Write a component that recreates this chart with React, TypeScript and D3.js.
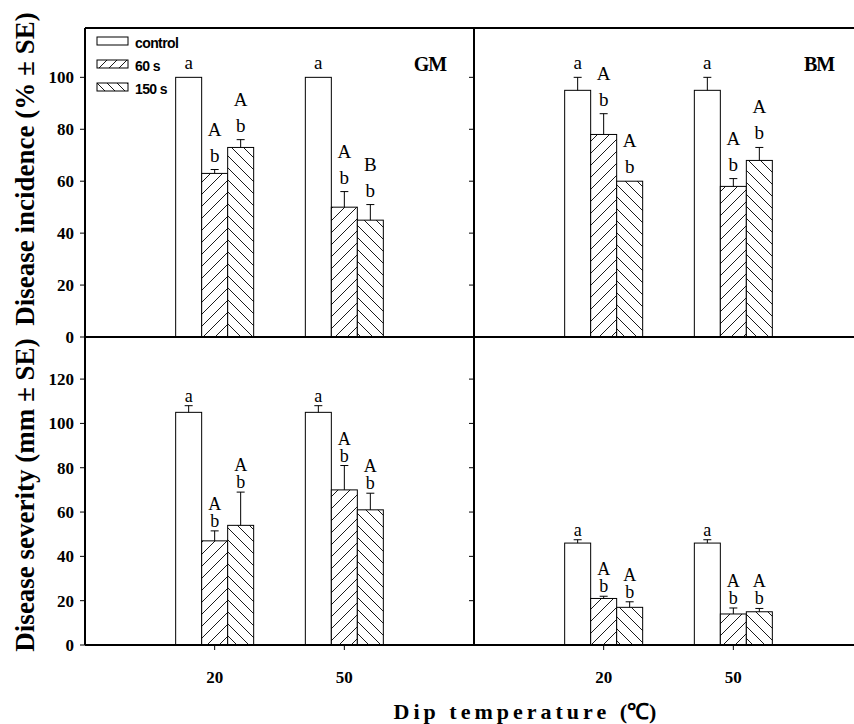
import React from "react";
import * as d3 from "d3";

// Dip temperatures (°C) and treatments
const temperatures = ["20", "50"];
const treatments = ["control", "60 s", "150 s"];

// Means and standard errors, indexed [treatment][temperature]
const gmIncidence = [[100, 100], [63, 50], [73, 45]];
const gmIncidenceSE = [[0, 0], [1.5, 6], [3, 6]];
const bmIncidence = [[95, 95], [78, 58], [60, 68]];
const bmIncidenceSE = [[5, 5], [8, 3], [0, 5]];
const gmSeverity = [[105, 105], [47, 70], [54, 61]];
const gmSeveritySE = [[3, 3], [4.5, 11], [15, 7.5]];
const bmSeverity = [[46, 46], [21, 14], [17, 15]];
const bmSeveritySE = [[1.5, 1.5], [1, 2.7], [2.5, 1.5]];

// Significance letters
const lowerLetters = [["a", "a"], ["b", "b"], ["b", "b"]];
const gmIncidenceUpper = [["", ""], ["A", "A"], ["A", "B"]];
const commonUpper = [["", ""], ["A", "A"], ["A", "A"]];

const incidenceTicks = [0, 20, 40, 60, 80, 100];
const severityTicks = [0, 20, 40, 60, 80, 100, 120];
const cultivars = ["GM", "BM"];

const W = 854;
const H = 724;
const LEFT = 85;
const PANEL_W = 389;
const TOP = 28;
const MID = 337;
const BOTTOM = 645;
const SERIF = "'Liberation Serif', 'Times New Roman', serif";
const SANS = "'Liberation Sans', Arial, sans-serif";

type Panel = {
  values: number[][];
  se: number[][];
  upper: string[][];
};

const rows = [
  {
    title: "Disease incidence (% \u00b1 SE)",
    ticks: incidenceTicks,
    y: d3.scaleLinear().domain([0, 119]).range([MID, TOP]),
    titleCenter: 169,
    letterSize: 19,
    gapLower: 8,
    spacing: 26,
    panels: [
      { values: gmIncidence, se: gmIncidenceSE, upper: gmIncidenceUpper },
      { values: bmIncidence, se: bmIncidenceSE, upper: commonUpper },
    ] as Panel[],
  },
  {
    title: "Disease severity (mm \u00b1 SE)",
    ticks: severityTicks,
    y: d3.scaleLinear().domain([0, 139]).range([BOTTOM, MID]),
    titleCenter: 495,
    letterSize: 18,
    gapLower: 4,
    spacing: 17,
    panels: [
      { values: gmSeverity, se: gmSeveritySE, upper: commonUpper },
      { values: bmSeverity, se: bmSeveritySE, upper: commonUpper },
    ] as Panel[],
  },
];

const fills = ["#ffffff", "url(#hatchFwd)", "url(#hatchBack)"];

export default function App() {
  const inner = d3.scaleBand<string>().domain(treatments).range([-39, 39]);
  const bw = inner.bandwidth();
  const xFor = (col: number) =>
    d3
      .scalePoint<string>()
      .domain(["", ...temperatures, " "])
      .range([LEFT + col * PANEL_W, LEFT + (col + 1) * PANEL_W]);

  return (
    <svg
      width={W}
      height={H}
      style={{ position: "absolute", left: 0, top: 0, background: "#fff" }}
    >
      <defs>
        <pattern id="hatchFwd" patternUnits="userSpaceOnUse" width={12} height={12}>
          <rect width={12} height={12} fill="#fff" />
          <path d="M0,12 L12,0 M-3,3 L3,-3 M9,15 L15,9" stroke="#000" strokeWidth={0.9} />
        </pattern>
        <pattern id="hatchBack" patternUnits="userSpaceOnUse" width={12} height={12}>
          <rect width={12} height={12} fill="#fff" />
          <path d="M0,0 L12,12 M-3,9 L3,15 M9,-3 L15,3" stroke="#000" strokeWidth={0.9} />
        </pattern>
        <pattern id="legFwd" patternUnits="userSpaceOnUse" width={10} height={10}>
          <rect width={10} height={10} fill="#fff" />
          <path d="M0,10 L10,0 M-3,3 L3,-3 M7,13 L13,7" stroke="#000" strokeWidth={0.9} />
        </pattern>
        <pattern id="legBack" patternUnits="userSpaceOnUse" width={10} height={10}>
          <rect width={10} height={10} fill="#fff" />
          <path d="M0,0 L10,10 M-3,7 L3,13 M7,-3 L13,3" stroke="#000" strokeWidth={0.9} />
        </pattern>
      </defs>

      {rows.map((row, r) =>
        row.panels.map((p, c) => {
          const x = xFor(c);
          const y = row.y;
          return (
            <g key={`p${r}${c}`}>
              {treatments.map((t, ti) =>
                temperatures.map((temp, gi) => {
                  const v = p.values[ti][gi];
                  const s = p.se[ti][gi];
                  const cx = (x(temp) as number) + (inner(t) as number) + bw / 2;
                  const top = y(v);
                  const errTop = y(v + s);
                  const lowerY = errTop - row.gapLower;
                  const upperY = lowerY - row.spacing;
                  return (
                    <g key={`${t}-${temp}`}>
                      <rect
                        x={cx - bw / 2}
                        y={top}
                        width={bw}
                        height={y(0) - top}
                        fill={fills[ti]}
                        stroke="#000"
                        strokeWidth={1}
                      />
                      {s > 0 && (
                        <path
                          d={`M${cx},${top} V${errTop} M${cx - 4},${errTop} H${cx + 4}`}
                          stroke="#000"
                          strokeWidth={1}
                          fill="none"
                        />
                      )}
                      <text
                        x={cx}
                        y={lowerY}
                        textAnchor="middle"
                        fontFamily={SERIF}
                        fontSize={row.letterSize}
                      >
                        {lowerLetters[ti][gi]}
                      </text>
                      {p.upper[ti][gi] && (
                        <text
                          x={cx}
                          y={upperY}
                          textAnchor="middle"
                          fontFamily={SERIF}
                          fontSize={row.letterSize}
                        >
                          {p.upper[ti][gi]}
                        </text>
                      )}
                    </g>
                  );
                })
              )}
              {/* y ticks */}
              {row.ticks.map((tk) => (
                <g key={`t${tk}`}>
                  <line
                    x1={LEFT + c * PANEL_W - 5}
                    x2={LEFT + c * PANEL_W}
                    y1={y(tk)}
                    y2={y(tk)}
                    stroke="#000"
                    strokeWidth={1}
                  />
                  {c === 0 && (
                    <text
                      x={LEFT - 11}
                      y={y(tk) + 6}
                      textAnchor="end"
                      fontFamily={SERIF}
                      fontWeight="bold"
                      fontSize={17}
                    >
                      {tk}
                    </text>
                  )}
                </g>
              ))}
              {r === 0 && (
                <text
                  x={LEFT + c * PANEL_W + 345}
                  y={71}
                  textAnchor="middle"
                  fontFamily={SERIF}
                  fontWeight="bold"
                  fontSize={20}
                  letterSpacing={-1}
                >
                  {cultivars[c]}
                </text>
              )}
              {r === 1 &&
                temperatures.map((temp) => (
                  <g key={`x${temp}`}>
                    <line
                      x1={x(temp)}
                      x2={x(temp)}
                      y1={BOTTOM}
                      y2={BOTTOM + 5}
                      stroke="#000"
                      strokeWidth={1}
                    />
                    <text
                      x={x(temp)}
                      y={BOTTOM + 38}
                      textAnchor="middle"
                      fontFamily={SERIF}
                      fontWeight="bold"
                      fontSize={17}
                    >
                      {temp}
                    </text>
                  </g>
                ))}
            </g>
          );
        })
      )}

      {/* frame */}
      <g stroke="#000" strokeWidth={2} fill="none">
        <line x1={LEFT} x2={W} y1={TOP} y2={TOP} />
        <line x1={LEFT} x2={W} y1={MID} y2={MID} />
        <line x1={LEFT} x2={W} y1={BOTTOM} y2={BOTTOM} />
        <line x1={LEFT} x2={LEFT} y1={TOP} y2={BOTTOM} />
        <line x1={LEFT + PANEL_W} x2={LEFT + PANEL_W} y1={TOP} y2={BOTTOM} />
      </g>

      {/* legend */}
      {treatments.map((t, i) => (
        <g key={`leg${t}`} transform={`translate(97,${37 + i * 23})`}>
          <rect
            width={31}
            height={8}
            fill={i === 0 ? "#fff" : i === 1 ? "url(#legFwd)" : "url(#legBack)"}
            stroke="#000"
            strokeWidth={1}
          />
          <text
            x={38}
            y={10.5}
            fontFamily={SANS}
            fontWeight="bold"
            fontSize={14}
            letterSpacing={-0.6}
          >
            {t}
          </text>
        </g>
      ))}

      {/* axis titles */}
      {rows.map((row, r) => (
        <text
          key={`yt${r}`}
          transform={`translate(34,${row.titleCenter}) rotate(-90)`}
          textAnchor="middle"
          fontFamily={SERIF}
          fontWeight="bold"
          fontSize={27}
        >
          {row.title}
        </text>
      ))}
      <text
        x={525}
        y={719}
        textAnchor="middle"
        fontFamily={SERIF}
        fontWeight="bold"
        fontSize={22}
      >
        <tspan letterSpacing={4}>Dip temperature </tspan>
        <tspan>(&#8451;)</tspan>
      </text>
    </svg>
  );
}
